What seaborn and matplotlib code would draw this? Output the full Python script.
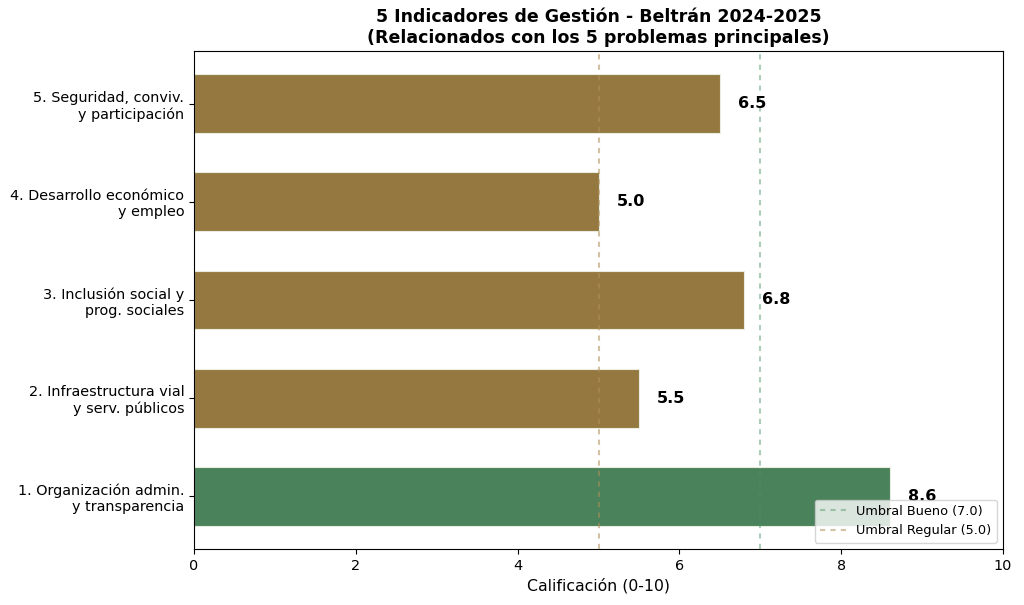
import pandas as pd
import seaborn as sns
import matplotlib.pyplot as plt

# Datos de los indicadores
indicadores = [
    "1. Organización admin.\ny transparencia",
    "2. Infraestructura vial\ny serv. públicos",
    "3. Inclusión social y\nprog. sociales",
    "4. Desarrollo económico\ny empleo",
    "5. Seguridad, conviv.\ny participación",
]
calificaciones = [8.6, 5.5, 6.8, 5.0, 6.5]
umbral_bueno = 7.0
umbral_regular = 5.0

df = pd.DataFrame({"Indicador": indicadores, "Calificacion": calificaciones})
df["Nivel"] = ["Bueno" if c >= umbral_bueno else "Regular" for c in df["Calificacion"]]

fig, ax = plt.subplots(figsize=(10.24, 6.05), dpi=100)

sns.barplot(
    data=df, x="Calificacion", y="Indicador", hue="Nivel",
    order=indicadores[::-1], orient="h", width=0.6, dodge=False,
    palette={"Bueno": "#4A825B", "Regular": "#94783F"},
    legend=False, ax=ax, saturation=1, edgecolor="#E8EDE0", linewidth=0.8,
)

# Umbrales (sobre las barras, semitransparentes)
ax.axvline(umbral_bueno, color="#4A925F", alpha=0.45, linestyle=(0, (2.5, 2.5)),
           linewidth=1.5, label="Umbral Bueno (7.0)")
ax.axvline(umbral_regular, color="#B08F5A", alpha=0.55, linestyle=(0, (2.5, 2.5)),
           linewidth=1.5, label="Umbral Regular (5.0)")

# Etiquetas de valor
for i, ind in enumerate(indicadores[::-1]):
    val = df.loc[df["Indicador"] == ind, "Calificacion"].iloc[0]
    ax.text(val + 0.22, i, f"{val:.1f}", va="center", ha="left", fontsize=11.5, fontweight="bold")

ax.set_xlim(0, 10)
ax.set_ylim(4.535, -0.535)
ax.set_xlabel("Calificación (0-10)", fontsize=11.3)
ax.set_ylabel("")
ax.tick_params(axis="y", labelsize=10.4)
ax.tick_params(axis="x", labelsize=10.4)
ax.set_title("5 Indicadores de Gestión - Beltrán 2024-2025\n(Relacionados con los 5 problemas principales)",
             fontsize=12.5, fontweight="bold")
for s in ax.spines.values():
    s.set_visible(True)
ax.legend(loc="lower right", fontsize=9.3)

plt.subplots_adjust(left=0.1895, right=0.9795, top=0.9157, bottom=0.0926)
plt.savefig("out.png", dpi=100)
